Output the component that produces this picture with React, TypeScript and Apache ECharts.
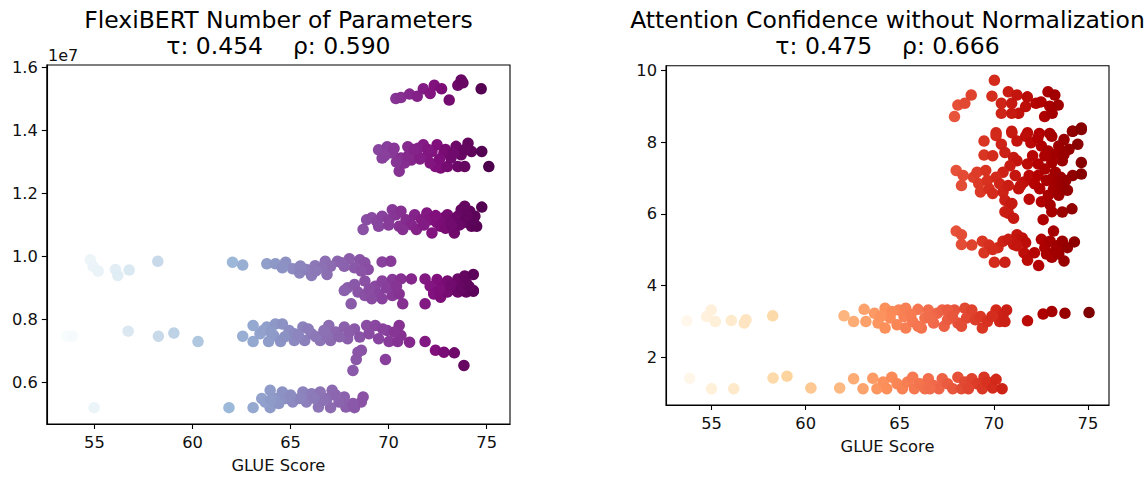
import React, { useEffect, useRef } from "react";
import * as echarts from "echarts";

// ---- Left panel: GLUE score vs number of parameters (millions) ----
const flexiTop: [number, number][] = [
  [70.37, 15.02], [70.63, 15.05], [71.07, 15.16], [71.46, 15.09], [71.77, 15.33], [72.12, 15.18],
  [72.33, 15.44], [72.7, 15.33], [73.09, 14.97], [73.53, 15.44], [73.7, 15.61], [73.79, 15.52], [74.72, 15.33],
];
const flexi13: [number, number][] = [
  [69.49, 13.39], [69.93, 13.49], [69.67, 13.13], [70.19, 13.29], [70.54, 12.71], [70.63, 13.13], [70.98, 13.49],
  [71.16, 13.07], [71.42, 13.29], [71.77, 13.55], [71.95, 13.18], [72.21, 13.34], [72.47, 13.55], [72.65, 12.81],
  [72.39, 12.86], [72.82, 13.29], [73.0, 12.86], [73.18, 13.13], [73.44, 13.5], [73.53, 12.86], [73.88, 12.86],
  [73.7, 13.23], [74.05, 13.6], [74.23, 13.34], [74.75, 13.34], [75.11, 12.86], [72.12, 12.97], [71.51, 13.44],
  [70.28, 13.44], [70.81, 12.97], [69.8, 13.2], [70.4, 13.0], [71.0, 13.2], [71.6, 13.1], [72.0, 13.4],
  [72.9, 13.4], [73.3, 13.3], [73.9, 13.4], [72.6, 13.1], [71.3, 13.4],
];
const flexi11: [number, number][] = [
  [68.7, 10.86], [68.88, 11.17], [69.14, 11.23], [69.4, 11.12], [69.67, 11.28], [70.02, 11.17], [70.19, 11.49],
  [70.37, 11.33], [70.54, 10.96], [70.63, 11.44], [70.89, 11.17], [71.16, 11.01], [71.33, 11.33], [71.42, 10.86],
  [71.68, 11.17], [71.95, 11.38], [72.12, 11.17], [72.21, 10.75], [72.47, 11.07], [72.65, 10.96], [72.82, 11.23],
  [73.0, 11.33], [73.18, 11.17], [73.35, 10.75], [73.53, 11.28], [73.7, 11.49], [73.79, 11.07], [73.96, 11.17],
  [74.14, 11.44], [74.23, 10.96], [74.4, 11.28], [74.49, 10.96], [74.75, 11.57], [73.88, 11.6], [74.32, 11.17],
  [69.49, 10.96], [70.72, 10.86], [72.9, 10.9], [73.6, 11.0], [74.0, 11.3], [73.2, 11.0], [72.4, 11.3],
  [70.0, 11.0], [71.8, 11.0],
];
const flexi97: [number, number][] = [
  [54.79, 9.9], [54.93, 9.69], [55.19, 9.54], [56.07, 9.59], [56.19, 9.4], [56.77, 9.57], [58.23, 9.85],
  [62.04, 9.82], [62.56, 9.73], [63.79, 9.77], [64.23, 9.77], [64.75, 9.82], [65.11, 9.61], [65.46, 9.48],
  [65.81, 9.59], [66.07, 9.4], [66.25, 9.71], [66.77, 9.85], [66.86, 9.43], [67.39, 9.85], [68.0, 9.93],
  [68.53, 9.9], [68.79, 9.8], [68.96, 9.59], [68.26, 9.64], [69.67, 9.83], [70.11, 9.85], [67.04, 9.69],
  [64.58, 9.64], [66.6, 9.64], [67.74, 9.69], [68.61, 9.54], [65.5, 9.7], [66.3, 9.55], [67.6, 9.8],
];
const flexi9: [number, number][] = [
  [67.91, 9.01], [68.26, 9.11], [68.79, 9.22], [69.32, 9.06], [69.67, 9.22], [70.19, 9.27], [70.63, 9.29],
  [71.16, 9.29], [71.86, 9.29], [72.47, 9.27], [73.0, 9.22], [73.53, 9.29], [73.88, 9.38], [74.32, 9.43],
  [72.3, 8.85], [72.82, 9.06], [73.35, 8.95], [73.96, 9.17], [74.32, 8.9], [72.12, 9.06], [68.09, 8.5],
  [68.44, 8.87], [68.79, 8.76], [69.49, 8.81], [69.67, 8.66], [70.19, 8.76], [70.72, 8.5], [71.86, 8.5],
  [72.3, 8.81], [72.65, 8.71], [73.0, 8.87], [73.53, 8.87], [73.96, 8.87], [74.32, 8.92], [67.74, 8.92],
  [69.14, 8.66], [70.54, 8.81], [69.9, 9.0], [70.4, 9.05], [73.2, 9.1], [73.7, 9.0], [72.6, 8.95],
  [74.1, 9.05], [69.0, 8.95],
];
const flexi75: [number, number][] = [
  [53.61, 7.47], [53.88, 7.47], [56.72, 7.63], [58.26, 7.47], [59.05, 7.57], [60.28, 7.3], [62.56, 7.47],
  [63.09, 7.81], [63.09, 7.3], [63.44, 7.55], [63.79, 7.76], [64.14, 7.49], [64.23, 7.86], [64.58, 7.86],
  [64.49, 7.3], [64.93, 7.65], [65.19, 7.33], [65.63, 7.76], [65.72, 7.33], [66.07, 7.55], [66.51, 7.33],
  [66.95, 7.81], [67.04, 7.33], [67.3, 7.6], [67.74, 7.76], [67.91, 7.39], [68.26, 7.7], [68.53, 7.44],
  [68.88, 7.81], [69.32, 7.81], [69.49, 7.39], [69.93, 7.65], [70.02, 7.3], [70.54, 7.81], [70.63, 7.49],
  [71.07, 7.28], [70.46, 7.3], [63.88, 7.3], [65.19, 7.55], [66.86, 7.49], [68.61, 7.02], [68.35, 6.73],
  [68.18, 6.38], [69.84, 6.73], [71.86, 7.3], [72.39, 7.02], [72.82, 6.96], [73.35, 6.94], [73.84, 6.54],
  [68.44, 6.96], [63.6, 7.65], [64.0, 7.6], [64.7, 7.45], [65.4, 7.5], [65.9, 7.7], [66.3, 7.45],
  [66.7, 7.65], [67.5, 7.45], [68.0, 7.6], [69.0, 7.55], [69.7, 7.7], [70.3, 7.6],
];
const flexi54: [number, number][] = [
  [54.98, 5.2], [61.86, 5.2], [63.09, 5.2], [63.53, 5.49], [63.96, 5.75], [63.96, 5.2], [64.23, 5.49],
  [64.58, 5.7], [64.75, 5.49], [65.11, 5.38], [65.63, 5.7], [65.81, 5.38], [66.07, 5.64], [66.42, 5.22],
  [66.51, 5.7], [66.86, 5.49], [67.04, 5.2], [67.12, 5.75], [67.74, 5.54], [67.82, 5.22], [68.26, 5.2],
  [68.61, 5.38], [68.7, 5.54], [63.7, 5.38], [64.4, 5.33], [65.46, 5.49], [66.68, 5.43], [67.47, 5.38],
  [68.18, 5.33], [65.0, 5.6], [66.2, 5.5], [67.3, 5.6], [64.0, 5.45],
];

// ---- Right panel: GLUE score vs attention confidence ----
const conf9: [number, number][] = [
  [67.91, 8.71], [68.09, 9.03], [68.46, 9.08], [68.8, 9.31], [70.03, 9.72], [69.9, 9.28], [70.4, 9.08],
  [70.4, 8.8], [70.77, 9.4], [70.95, 9.08], [71.23, 9.31], [71.32, 8.8], [71.69, 8.99], [71.78, 9.26],
  [72.24, 9.08], [72.7, 8.71], [72.51, 9.12], [72.88, 9.4], [72.97, 9.0], [73.24, 9.31], [73.42, 9.03],
  [73.1, 8.8], [70.95, 8.8],
];
const conf8: [number, number][] = [
  [70.12, 8.26], [70.95, 8.3], [71.79, 8.26], [72.42, 8.24], [72.97, 8.24], [74.19, 8.3], [74.65, 8.39],
  [69.48, 8.03], [70.12, 8.18], [69.48, 7.64], [69.94, 7.62], [70.4, 7.94], [70.59, 7.71], [70.96, 8.26],
  [71.23, 8.03], [71.69, 8.16], [71.97, 7.98], [72.34, 8.12], [72.53, 7.89], [73.08, 8.16], [72.89, 7.75],
  [73.45, 7.89], [73.73, 8.07], [73.99, 7.8], [74.46, 7.94], [74.18, 8.3], [74.65, 8.35], [73.64, 7.48],
  [71.05, 7.57], [71.23, 7.48], [70.86, 7.34], [71.79, 7.39], [72.35, 7.39], [73.08, 7.43], [72.06, 7.62],
  [72.71, 7.62], [73.27, 7.66], [73.73, 7.66],
];
const conf7: [number, number][] = [
  [70.49, 7.16], [71.14, 7.07], [68.0, 7.21], [68.37, 7.07], [68.28, 6.79], [68.92, 7.02], [69.11, 7.16],
  [69.2, 6.84], [69.29, 6.61], [69.57, 7.21], [69.66, 6.93], [69.75, 6.7], [69.94, 6.57], [70.12, 7.02],
  [70.31, 6.84], [70.49, 6.61], [70.59, 6.38], [70.77, 6.79], [70.86, 6.25], [70.59, 6.06], [70.77, 6.02],
  [71.05, 5.88], [70.96, 6.29], [71.32, 6.7], [71.6, 6.89], [71.88, 7.07], [71.88, 6.41], [71.42, 6.79],
  [72.16, 6.84], [72.35, 7.07], [72.44, 6.7], [72.53, 6.34], [72.71, 7.25], [72.8, 6.93], [72.9, 6.52],
  [72.99, 6.25], [73.08, 6.98], [73.17, 6.7], [73.27, 7.16], [73.36, 6.84], [73.45, 6.52], [73.55, 7.02],
  [73.64, 6.79], [73.82, 6.93], [73.91, 6.66], [72.62, 5.84], [73.08, 6.06], [73.64, 6.05], [74.15, 6.14],
  [74.19, 7.07], [74.65, 7.43], [74.65, 7.11],
];
const conf5: [number, number][] = [
  [68.0, 5.52], [68.28, 5.42], [68.28, 5.15], [68.83, 5.13], [69.39, 5.24], [69.48, 4.92], [69.75, 5.13],
  [70.03, 4.65], [70.22, 5.06], [70.59, 4.65], [70.49, 5.24], [70.77, 5.29], [71.05, 5.15], [71.23, 5.42],
  [71.51, 5.33], [71.69, 5.2], [71.6, 4.92], [71.79, 4.71], [72.16, 4.92], [72.38, 4.56], [72.53, 5.29],
  [72.71, 5.06], [72.99, 5.24], [73.08, 4.79], [73.17, 5.52], [73.36, 5.11], [73.45, 4.88], [73.64, 5.24],
  [73.73, 4.69], [73.91, 5.06], [74.28, 5.22], [72.8, 4.88], [73.27, 4.97], [71.23, 5.11], [69.94, 5.01],
];
const conf3: [number, number][] = [
  [53.69, 3.02], [54.74, 3.14], [54.98, 3.32], [55.2, 3.0], [56.05, 3.03], [56.74, 2.96], [56.83, 3.05],
  [58.25, 3.16], [62.04, 3.16], [62.55, 3.0], [63.11, 3.34], [63.2, 3.0], [63.66, 3.23], [63.85, 2.96],
  [64.22, 3.37], [64.22, 2.82], [64.49, 3.1], [64.86, 2.91], [64.95, 3.32], [65.23, 3.14], [65.32, 2.82],
  [65.69, 3.0], [65.97, 3.34], [66.15, 2.82], [66.34, 3.1], [66.52, 3.32], [66.8, 2.96], [66.99, 3.23],
  [67.26, 3.32], [67.36, 2.87], [67.54, 3.05], [67.91, 3.32], [68.09, 2.96], [68.46, 3.37], [68.55, 3.1],
  [68.83, 3.32], [69.02, 3.05], [69.39, 2.82], [69.29, 3.14], [69.66, 3.0], [70.12, 3.32], [70.31, 3.0],
  [70.49, 3.19], [70.68, 3.32], [70.59, 3.0], [71.79, 3.02], [72.62, 3.21], [73.08, 3.28], [73.78, 3.23],
  [75.06, 3.25], [64.58, 3.28], [65.32, 3.37], [68.28, 2.87], [65.97, 2.87], [67.54, 3.32], [64.0, 3.15],
  [65.6, 3.2], [66.6, 3.1], [67.8, 3.15], [69.9, 3.15],
];
const conf1: [number, number][] = [
  [53.84, 1.42], [55.0, 1.13], [56.18, 1.13], [58.27, 1.43], [59.01, 1.48], [60.28, 1.15], [61.81, 1.15],
  [62.55, 1.41], [63.05, 1.13], [63.57, 1.42], [63.79, 1.13], [64.12, 1.32], [64.31, 1.13], [64.58, 1.45],
  [64.86, 1.27], [65.14, 1.13], [65.42, 1.32], [65.69, 1.45], [65.78, 1.13], [66.06, 1.27], [66.34, 1.13],
  [66.52, 1.41], [66.8, 1.22], [67.08, 1.13], [67.26, 1.41], [67.54, 1.27], [67.82, 1.13], [68.09, 1.45],
  [68.28, 1.13], [68.46, 1.32], [68.83, 1.41], [69.11, 1.27], [69.48, 1.45], [69.39, 1.13], [69.66, 1.32],
  [69.94, 1.15], [70.12, 1.39], [70.44, 1.13], [66.61, 1.13], [68.65, 1.13],
];

const xTicks = [55, 60, 65, 70, 75];
const paramTicks = [6e6, 8e6, 1e7, 1.2e7, 1.4e7, 1.6e7];
const confTicks = [2, 4, 6, 8, 10];

const leftTitle = "FlexiBERT Number of Parameters";
const leftStats = "τ: 0.454\u00a0\u00a0\u00a0\u00a0ρ: 0.590";
const rightTitle = "Attention Confidence without Normalization";
const rightStats = "τ: 0.475\u00a0\u00a0\u00a0\u00a0ρ: 0.666";
const xName = "GLUE Score";

const BuPu = ["#f7fcfd", "#e0ecf4", "#bfd3e6", "#9ebcda", "#8c96c6", "#8c6bb1", "#88419d", "#810f7c", "#4d004b"];
const OrRd = ["#fff7ec", "#fee8c8", "#fdd49e", "#fdbb84", "#fc8d59", "#ef6548", "#d7301f", "#b30000", "#7f0000"];

const FONT = "DejaVu Sans";
const TXT = "#111";

export default function App() {
  const ref = useRef<HTMLDivElement>(null);
  useEffect(() => {
    if (!ref.current) return;
    const chart = echarts.init(ref.current, undefined, { renderer: "svg" });
    const leftData = [...flexiTop, ...flexi13, ...flexi11, ...flexi97, ...flexi9, ...flexi75, ...flexi54].map(
      ([g, p]) => [g, p * 1e6]
    );
    const rightData = [...conf9, ...conf8, ...conf7, ...conf5, ...conf3, ...conf1];
    const lx = leftData.map((d) => d[0]);
    const rx = rightData.map((d) => d[0]);

    const xAxisBase = (gridIndex: number, min: number, max: number, gap: number) => ({
      type: "value",
      gridIndex,
      min,
      max,
      name: xName,
      nameLocation: "middle",
      nameGap: gap,
      nameTextStyle: { fontFamily: FONT, fontSize: 16.3, color: TXT },
      splitLine: { show: false },
      axisLine: { show: true, onZero: false, lineStyle: { color: "#000", width: 1.1 } },
      axisTick: { show: true, length: 5, customValues: xTicks, lineStyle: { color: "#000", width: 1.1 } },
      axisLabel: { fontFamily: FONT, fontSize: 16.3, color: TXT, margin: 10, customValues: xTicks },
    });

    const option: any = {
      animation: false,
      backgroundColor: "#fff",
      grid: [
        { left: 46.8, top: 65, width: 463.2, height: 361, show: true, borderColor: "#000", borderWidth: 1.1, containLabel: false },
        { left: 666, top: 65.7, width: 443, height: 339.3, show: true, borderColor: "#000", borderWidth: 1.1, containLabel: false },
      ],
      xAxis: [xAxisBase(0, 52.57, 76.19, 33), xAxisBase(1, 52.58, 76.12, 33)],
      yAxis: [
        {
          type: "value",
          gridIndex: 0,
          min: 4.68e6,
          max: 1.6085e7,
          splitLine: { show: false },
          axisLine: { show: true, onZero: false, lineStyle: { color: "#000", width: 1.1 } },
          axisTick: { show: true, length: 5, customValues: paramTicks, lineStyle: { color: "#000", width: 1.1 } },
          axisLabel: {
            fontFamily: FONT,
            fontSize: 16.3,
            color: TXT,
            margin: 9,
            customValues: paramTicks,
            formatter: (v: number) => (v / 1e7).toFixed(1),
          },
        },
        {
          type: "value",
          gridIndex: 1,
          min: 0.676,
          max: 10.128,
          splitLine: { show: false },
          axisLine: { show: true, onZero: false, lineStyle: { color: "#000", width: 1.1 } },
          axisTick: { show: true, length: 5, customValues: confTicks, lineStyle: { color: "#000", width: 1.1 } },
          axisLabel: { fontFamily: FONT, fontSize: 16.3, color: TXT, margin: 9, customValues: confTicks },
        },
      ],
      visualMap: [
        {
          type: "continuous",
          show: false,
          seriesIndex: 0,
          dimension: 0,
          min: Math.min(...lx),
          max: Math.max(...lx),
          inRange: { color: BuPu },
        },
        {
          type: "continuous",
          show: false,
          seriesIndex: 1,
          dimension: 0,
          min: Math.min(...rx),
          max: Math.max(...rx),
          inRange: { color: OrRd },
        },
      ],
      series: [
        { type: "scatter", xAxisIndex: 0, yAxisIndex: 0, data: leftData, symbolSize: 11.5, itemStyle: { opacity: 1 } },
        { type: "scatter", xAxisIndex: 1, yAxisIndex: 1, data: rightData, symbolSize: 11.5, itemStyle: { opacity: 1 } },
      ],
      graphic: [
        { type: "text", x: 278.4, y: 19.5, style: { text: leftTitle, fontFamily: FONT, fontSize: 23.5, fill: "#000", align: "center", verticalAlign: "middle" } },
        { type: "text", x: 278.4, y: 46, style: { text: leftStats, fontFamily: FONT, fontSize: 23.5, fill: "#000", align: "center", verticalAlign: "middle" } },
        { type: "text", x: 887.5, y: 19.5, style: { text: rightTitle, fontFamily: FONT, fontSize: 23.5, fill: "#000", align: "center", verticalAlign: "middle" } },
        { type: "text", x: 887.5, y: 45.5, style: { text: rightStats, fontFamily: FONT, fontSize: 23.5, fill: "#000", align: "center", verticalAlign: "middle" } },
        { type: "text", x: 48, y: 55, style: { text: "1e7", fontFamily: FONT, fontSize: 16, fill: TXT, align: "left", verticalAlign: "middle" } },
      ],
    };
    chart.setOption(option);
    return () => chart.dispose();
  }, []);
  return <div ref={ref} style={{ position: "fixed", left: 0, top: 0, width: 1145, height: 478 }} />;
}
